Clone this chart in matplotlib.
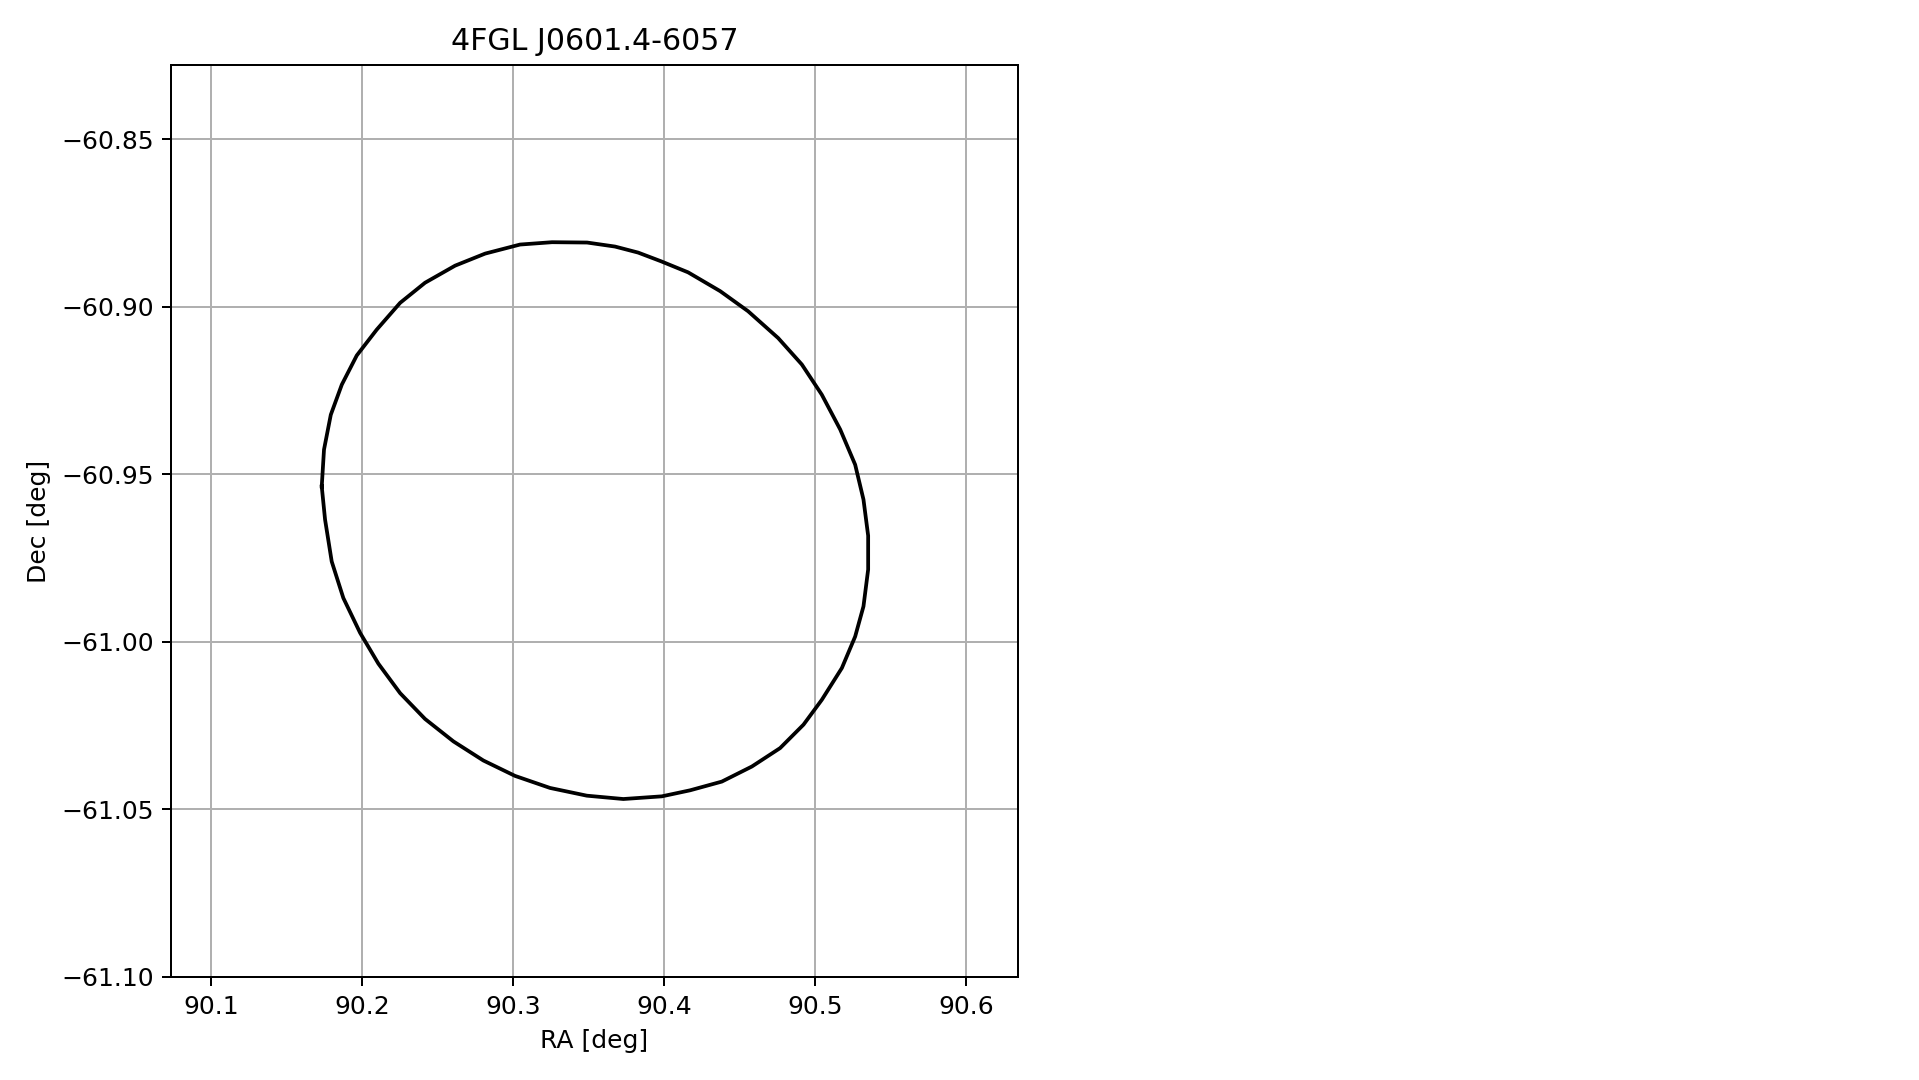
import numpy as np
import matplotlib
matplotlib.use('Agg')
import matplotlib.pyplot as plt

source_name = '4FGL J0601.4-6057'

# error ellipse vertices (deg)
ra = [90.1735, 90.1750, 90.1795, 90.1868, 90.1967, 90.2099, 90.2254, 90.2419,
      90.2618, 90.2817, 90.3048, 90.3260, 90.3492, 90.3677, 90.3830, 90.3982,
      90.4161, 90.4373, 90.4558, 90.4757, 90.4914, 90.5046, 90.5168, 90.5267,
      90.5322, 90.5353, 90.5353, 90.5322, 90.5267, 90.5179, 90.5046, 90.4925,
      90.4770, 90.4583, 90.4384, 90.4174, 90.3987, 90.3732, 90.3490, 90.3247,
      90.3015, 90.2805, 90.2607, 90.2419, 90.2254, 90.2110, 90.1989, 90.1878,
      90.1801, 90.1757, 90.1735]
dec = [-60.9537, -60.9427, -60.9323, -60.9233, -60.9146, -60.9069, -60.8989, -60.8929,
       -60.8878, -60.8842, -60.8815, -60.8808, -60.8809, -60.8821, -60.8839, -60.8865,
       -60.8898, -60.8954, -60.9014, -60.9094, -60.9173, -60.9263, -60.9367, -60.9472,
       -60.9576, -60.9684, -60.9785, -60.9895, -60.9985, -61.0079, -61.0174, -61.0248,
       -61.0318, -61.0373, -61.0418, -61.0444, -61.0462, -61.0470, -61.0460, -61.0437,
       -61.0401, -61.0355, -61.0298, -61.0231, -61.0154, -61.0066, -60.9974, -60.9870,
       -60.9761, -60.9636, -60.9537]

ra_lim = [90.0737, 90.6343]
dec_lim = [-61.1002, -60.8278]

dpi = 180
fig = plt.figure(figsize=(1919.4 / dpi, 1080.4 / dpi), dpi=dpi)
ax = fig.add_axes([0.0891, 0.0951, 0.4411, 0.8447])

ax.plot(ra, dec, 'k-')
ax.set_xlim(ra_lim)
ax.set_ylim(dec_lim)
ax.set_xticks([90.1, 90.2, 90.3, 90.4, 90.5, 90.6])
ax.set_yticks([-60.85, -60.90, -60.95, -61.00, -61.05, -61.10])
ax.grid(True)
ax.set_xlabel('RA [deg]')
ax.set_ylabel('Dec [deg]')
ax.set_title(source_name)

fig.savefig('out.png', dpi=dpi)
